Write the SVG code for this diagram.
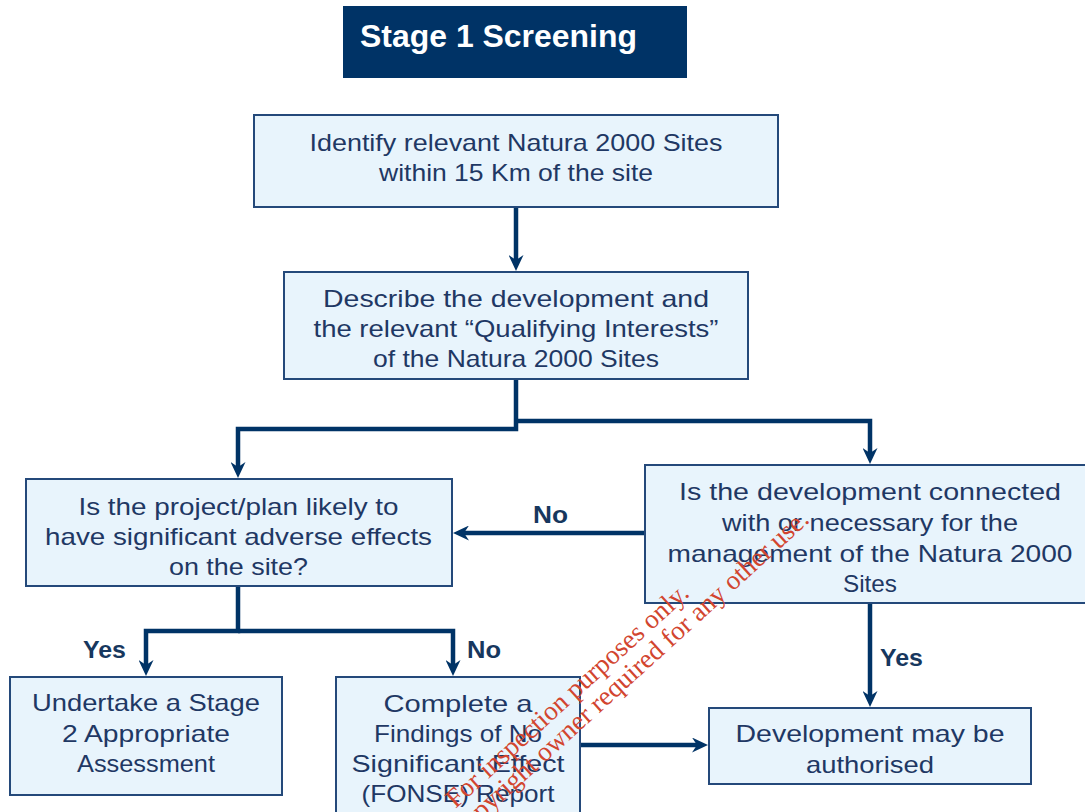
<svg xmlns="http://www.w3.org/2000/svg" width="1085" height="812" viewBox="0 0 1085 812">
<style>
.box{fill:#e8f4fc;stroke:#24497a;stroke-width:2}
.t{font-family:"Liberation Sans",Arial,sans-serif;font-size:24px;fill:#1f3864;text-anchor:middle}
.lbl{font-family:"Liberation Sans",Arial,sans-serif;font-size:24px;font-weight:bold;fill:#17375e}
.con{fill:none;stroke:#003366;stroke-width:4.5;stroke-linejoin:miter}
.wm{font-family:"Liberation Serif","Times New Roman",serif;font-size:27px;fill:#d2452f;text-anchor:middle}
</style>
<defs>
<marker id="ah" markerUnits="userSpaceOnUse" markerWidth="17" markerHeight="15" refX="6" refY="7.5" orient="auto">
<path d="M0,0 L16,7.5 L0,15 L5,7.5 z" fill="#003366"/>
</marker>
</defs>
<rect x="0" y="0" width="1085" height="812" fill="#ffffff"/>
<g id="title">
<rect x="343" y="6" width="344" height="72" fill="#003366"/>
<text x="360" y="47" font-family="Liberation Sans, Arial, sans-serif" font-size="32" font-weight="bold" fill="#ffffff" textLength="277" lengthAdjust="spacingAndGlyphs">Stage 1 Screening</text>
</g>
<g id="connectors">
<path class="con" d="M516,207 V261" marker-end="url(#ah)"/>
<path class="con" d="M516,379 V429 H238 V468" marker-end="url(#ah)"/>
<path class="con" d="M516,421 H870 V454" marker-end="url(#ah)"/>
<path class="con" d="M645,533 H463" marker-end="url(#ah)"/>
<path class="con" d="M238,586 V631 H146 V666" marker-end="url(#ah)"/>
<path class="con" d="M238,631 H453 V666" marker-end="url(#ah)"/>
<path class="con" d="M580,745 H698" marker-end="url(#ah)"/>
<path class="con" d="M870,603 V697" marker-end="url(#ah)"/>
<text class="lbl" x="533" y="523" textLength="35" lengthAdjust="spacingAndGlyphs">No</text>
<text class="lbl" x="83" y="658" textLength="43" lengthAdjust="spacingAndGlyphs">Yes</text>
<text class="lbl" x="467" y="658" textLength="34" lengthAdjust="spacingAndGlyphs">No</text>
<text class="lbl" x="880" y="666" textLength="43" lengthAdjust="spacingAndGlyphs">Yes</text>
</g>
<g id="identify">
<rect class="box" x="254" y="115" width="524" height="92"/>
<text class="t" x="516" y="151" textLength="413" lengthAdjust="spacingAndGlyphs">Identify relevant Natura 2000 Sites</text>
<text class="t" x="516" y="181" textLength="274" lengthAdjust="spacingAndGlyphs">within 15 Km of the site</text>
</g>
<g id="describe">
<rect class="box" x="284" y="272" width="464" height="107"/>
<text class="t" x="516" y="307" textLength="386" lengthAdjust="spacingAndGlyphs">Describe the development and</text>
<text class="t" x="516" y="337" textLength="405" lengthAdjust="spacingAndGlyphs">the relevant “Qualifying Interests”</text>
<text class="t" x="516" y="367" textLength="286" lengthAdjust="spacingAndGlyphs">of the Natura 2000 Sites</text>
</g>
<g id="effects">
<rect class="box" x="26" y="479" width="426" height="107"/>
<text class="t" x="238.5" y="515" textLength="320" lengthAdjust="spacingAndGlyphs">Is the project/plan likely to</text>
<text class="t" x="238.5" y="545" textLength="387" lengthAdjust="spacingAndGlyphs">have significant adverse effects</text>
<text class="t" x="238.5" y="575" textLength="139" lengthAdjust="spacingAndGlyphs">on the site?</text>
</g>
<g id="connected">
<rect class="box" x="645" y="465" width="445" height="138"/>
<text class="t" x="870" y="500" textLength="382" lengthAdjust="spacingAndGlyphs">Is the development connected</text>
<text class="t" x="870" y="531" textLength="296" lengthAdjust="spacingAndGlyphs">with or necessary for the</text>
<text class="t" x="870" y="562" textLength="405" lengthAdjust="spacingAndGlyphs">management of the Natura 2000</text>
<text class="t" x="870" y="592" textLength="54" lengthAdjust="spacingAndGlyphs">Sites</text>
</g>
<g id="stage2">
<rect class="box" x="10" y="677" width="272" height="118"/>
<text class="t" x="146" y="711" textLength="228" lengthAdjust="spacingAndGlyphs">Undertake a Stage</text>
<text class="t" x="146" y="742" textLength="168" lengthAdjust="spacingAndGlyphs">2 Appropriate</text>
<text class="t" x="146" y="772" textLength="138" lengthAdjust="spacingAndGlyphs">Assessment</text>
</g>
<g id="fonse">
<rect class="box" x="336" y="677" width="244" height="145"/>
<text class="t" x="458" y="712" textLength="149" lengthAdjust="spacingAndGlyphs">Complete a</text>
<text class="t" x="458" y="742" textLength="168" lengthAdjust="spacingAndGlyphs">Findings of No</text>
<text class="t" x="458" y="772" textLength="213" lengthAdjust="spacingAndGlyphs">Significant Effect</text>
<text class="t" x="458" y="802" textLength="193" lengthAdjust="spacingAndGlyphs">(FONSE) Report</text>
</g>
<g id="authorised">
<rect class="box" x="709" y="708" width="322" height="76"/>
<text class="t" x="870" y="742" textLength="269" lengthAdjust="spacingAndGlyphs">Development may be</text>
<text class="t" x="870" y="773" textLength="128" lengthAdjust="spacingAndGlyphs">authorised</text>
</g>
<g id="watermark" transform="translate(573,702) rotate(-42.3)">
<text class="wm" x="0" y="0">For inspection purposes only.</text>
<text class="wm" x="0" y="26">Consent of copyright owner required for any other use.</text>
</g>
</svg>
